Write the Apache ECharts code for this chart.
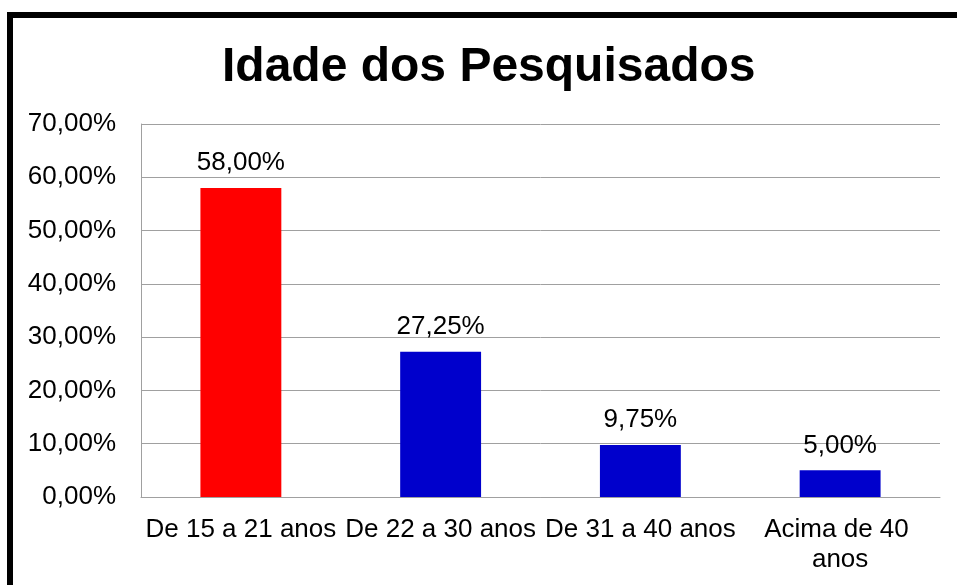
<!DOCTYPE html>
<html>
<head>
<meta charset="utf-8">
<script src="https://cdn.jsdelivr.net/npm/echarts@6/dist/echarts.min.js"></script>
<style>
  html, body { margin: 0; padding: 0; background: #fff; }
  #chart { width: 957px; height: 585px; }
</style>
</head>
<body>
<div id="chart"></div>
<script>
// dados do gráfico
const categorias = ['De 15 a 21 anos', 'De 22 a 30 anos', 'De 31 a 40 anos', 'Acima de 40 anos']
const valores = [58.00, 27.25, 9.75, 5.00]
const coresBarras = ['#ff0000', '#0000cc', '#0000cc', '#0000cc']

const fonte = '"Liberation Sans", Arial, sans-serif'
const pct = v => v.toFixed(2).replace('.', ',') + '%'

const chart = echarts.init(document.getElementById('chart'))

const option = {
  backgroundColor: '#fff',
  animation: false,
  // moldura preta (cortada à direita e embaixo)
  graphic: [
    {
      type: 'rect',
      shape: { x: 10, y: 15, width: 1200, height: 1200 },
      style: { fill: 'none', stroke: '#000', lineWidth: 6 },
      silent: true
    }
  ],
  title: {
    text: 'Idade dos Pesquisados',
    left: 217,
    top: 39,
    textStyle: { fontFamily: fonte, fontSize: 48, fontWeight: 'bold', color: '#000' }
  },
  grid: { left: 141, right: 17, top: 124, bottom: 88 },
  xAxis: {
    type: 'category',
    data: categorias,
    axisLine: { lineStyle: { color: '#a0a0a0', width: 1 } },
    axisTick: { show: false },
    axisLabel: {
      interval: 0,
      margin: 18,
      color: '#000',
      fontFamily: fonte,
      fontSize: 26,
      lineHeight: 30,
      width: 200,
      overflow: 'break'
    }
  },
  yAxis: {
    type: 'value',
    min: 0,
    max: 70,
    interval: 10,
    axisLine: { show: true, lineStyle: { color: '#a0a0a0', width: 1 } },
    axisTick: { show: false },
    splitLine: { lineStyle: { color: '#a0a0a0', width: 1 } },
    axisLabel: {
      margin: 25,
      color: '#000',
      fontFamily: fonte,
      fontSize: 26,
      formatter: pct
    }
  },
  series: [
    {
      type: 'bar',
      barWidth: '40.5%',
      data: valores.map((v, i) => ({ value: v, itemStyle: { color: coresBarras[i] } })),
      label: {
        show: true,
        position: 'top',
        distance: 12,
        color: '#000',
        fontFamily: fonte,
        fontSize: 26,
        formatter: p => pct(p.value)
      }
    }
  ]
}

chart.setOption(option)
</script>
</body>
</html>
